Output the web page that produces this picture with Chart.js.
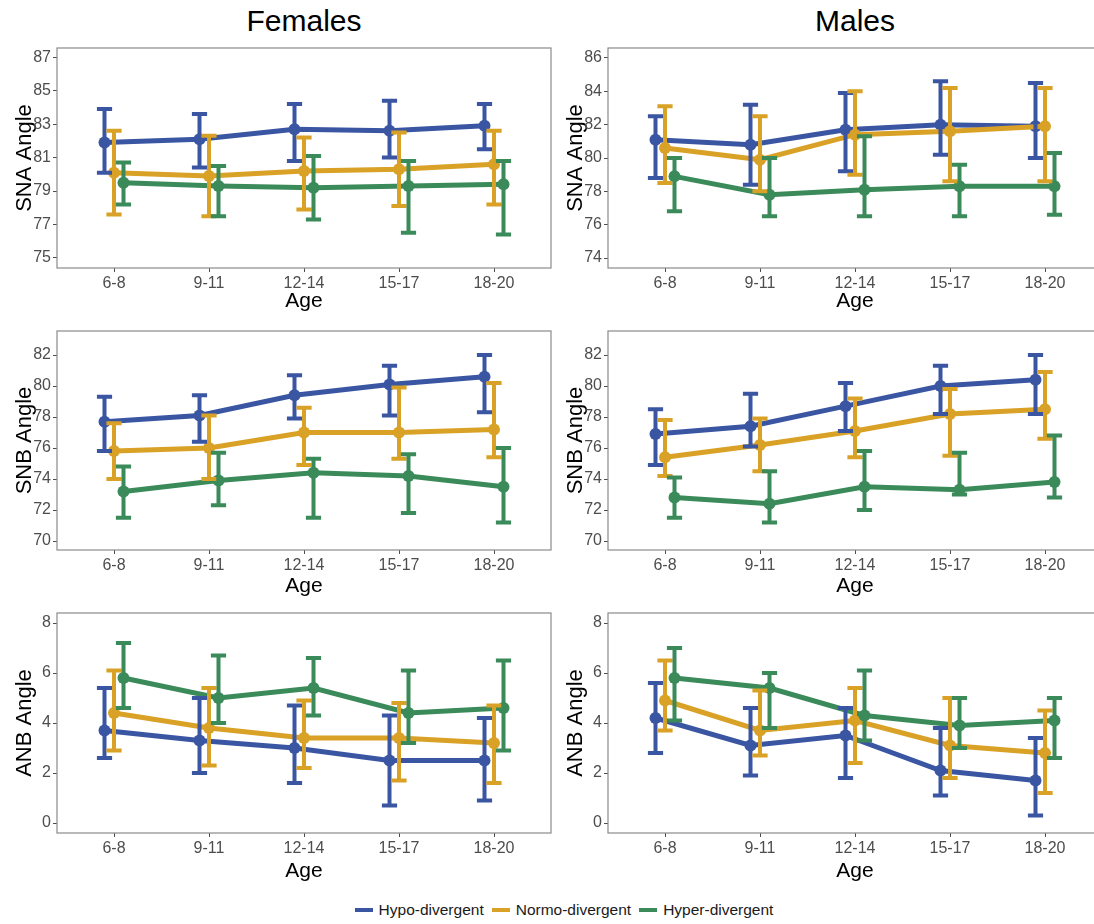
<!DOCTYPE html>
<html>
<head>
<meta charset="utf-8">
<script src="https://cdn.jsdelivr.net/npm/chart.js@4"></script>
<style>
  body { margin: 0; width: 1094px; height: 924px; overflow: hidden; background: #fff; position: relative;
         font-family: "Liberation Sans", Arial, sans-serif; }
  canvas { position: absolute; }
  .colTitle { position: absolute; top: 3px; font-size: 30px; line-height: 36px; text-align: center; color: #000; }
  #legend { position: absolute; top: 900px; left: 0; width: 1120px; height: 20px; display: flex;
            justify-content: center; align-items: center; font-size: 15.5px; color: #1a1a1a; }
  #legend .key { display: inline-block; width: 18px; height: 4px; margin: 0 6px 0 8px; }
</style>
</head>
<body>
<div class="colTitle" style="left:57px;width:494px">Females</div>
<div class="colTitle" style="left:608px;width:494px">Males</div>

<canvas id="femSna" width="560" height="274" style="left:0;top:40px"></canvas>
<canvas id="maleSna" width="560" height="274" style="left:553px;top:40px"></canvas>
<canvas id="femSnb" width="560" height="277" style="left:0;top:322px"></canvas>
<canvas id="maleSnb" width="560" height="277" style="left:553px;top:322px"></canvas>
<canvas id="femAnb" width="560" height="281" style="left:0;top:603px"></canvas>
<canvas id="maleAnb" width="560" height="281" style="left:553px;top:603px"></canvas>

<div id="legend"></div>

<script>
const ageGroups = ['6-8', '9-11', '12-14', '15-17', '18-20'];
const groupNames = ['Hypo-divergent', 'Normo-divergent', 'Hyper-divergent'];
const groupColors = ['#3a56a3', '#d9a126', '#3b8a5a'];

// rows: hypo, normo, hyper
const femSnaMean = [[81.9, 82.1, 82.7, 82.6, 82.9], [80.1, 79.9, 80.2, 80.3, 80.6], [79.5, 79.3, 79.2, 79.3, 79.4]];
const femSnaLow  = [[80.1, 80.4, 80.8, 81.0, 81.5], [77.6, 77.5, 77.9, 78.1, 78.2], [78.2, 77.5, 77.3, 76.5, 76.4]];
const femSnaHigh = [[83.9, 83.6, 84.2, 84.4, 84.2], [82.6, 82.3, 82.2, 82.5, 82.6], [80.7, 80.5, 81.1, 80.8, 80.8]];

const maleSnaMean = [[81.1, 80.8, 81.7, 82.0, 81.9], [80.6, 79.9, 81.4, 81.6, 81.9], [78.9, 77.8, 78.1, 78.3, 78.3]];
const maleSnaLow  = [[78.8, 78.4, 79.2, 80.2, 80.0], [78.5, 78.0, 79.0, 78.6, 78.6], [76.8, 76.5, 76.5, 76.5, 76.6]];
const maleSnaHigh = [[82.5, 83.2, 83.9, 84.6, 84.5], [83.1, 82.5, 84.0, 84.2, 84.2], [80.0, 80.0, 81.3, 79.6, 80.3]];

const femSnbMean = [[77.7, 78.1, 79.4, 80.1, 80.6], [75.8, 76.0, 77.0, 77.0, 77.2], [73.2, 73.9, 74.4, 74.2, 73.5]];
const femSnbLow  = [[75.8, 76.4, 77.9, 78.1, 78.3], [74.0, 74.0, 74.9, 75.3, 75.4], [71.5, 72.3, 71.5, 71.8, 71.2]];
const femSnbHigh = [[79.3, 79.4, 80.7, 81.3, 82.0], [77.6, 78.1, 78.6, 79.9, 80.2], [74.8, 75.7, 75.3, 75.6, 76.0]];

const maleSnbMean = [[76.9, 77.4, 78.7, 80.0, 80.4], [75.4, 76.2, 77.1, 78.2, 78.5], [72.8, 72.4, 73.5, 73.3, 73.8]];
const maleSnbLow  = [[74.9, 76.1, 77.1, 78.2, 78.2], [74.2, 74.5, 75.4, 75.5, 76.6], [71.5, 71.2, 72.0, 73.0, 72.8]];
const maleSnbHigh = [[78.5, 79.5, 80.2, 81.3, 82.0], [77.8, 77.9, 79.2, 79.8, 80.9], [74.1, 74.5, 75.8, 75.7, 76.8]];

const femAnbMean = [[3.7, 3.3, 3.0, 2.5, 2.5], [4.4, 3.8, 3.4, 3.4, 3.2], [5.8, 5.0, 5.4, 4.4, 4.6]];
const femAnbLow  = [[2.6, 2.0, 1.6, 0.7, 0.9], [2.9, 2.3, 2.2, 1.7, 1.6], [4.6, 4.0, 4.3, 3.2, 2.9]];
const femAnbHigh = [[5.4, 5.0, 4.7, 4.3, 4.2], [6.1, 5.4, 4.9, 4.8, 4.7], [7.2, 6.7, 6.6, 6.1, 6.5]];

const maleAnbMean = [[4.2, 3.1, 3.5, 2.1, 1.7], [4.9, 3.7, 4.1, 3.1, 2.8], [5.8, 5.4, 4.3, 3.9, 4.1]];
const maleAnbLow  = [[2.8, 1.9, 1.8, 1.1, 0.3], [3.7, 2.7, 2.4, 1.8, 1.2], [4.1, 3.8, 3.3, 3.0, 2.6]];
const maleAnbHigh = [[5.6, 4.6, 4.6, 3.8, 3.4], [6.5, 5.3, 5.4, 5.0, 4.5], [7.0, 6.0, 6.1, 5.0, 5.0]];

const femSnaTicks = [75, 77, 79, 81, 83, 85, 87];
const maleSnaTicks = [74, 76, 78, 80, 82, 84, 86];
const snbTicks = [70, 72, 74, 76, 78, 80, 82];
const anbTicks = [0, 2, 4, 6, 8];

const dodge = [-0.1, 0, 0.1];

// draws the error bars with caps, through the chart's own scales
const errorBars = {
    id: 'errorBars',
    afterDatasetsDraw(chart) {
        const ctx = chart.ctx;
        const xs = chart.scales.x, ys = chart.scales.y;
        ctx.save();
        chart.data.datasets.forEach(ds => {
            ctx.strokeStyle = ds.borderColor;
            ctx.lineWidth = 4;
            ds.data.forEach((pt, i) => {
                const x = xs.getPixelForValue(pt.x);
                const yLo = ys.getPixelForValue(ds.errLow[i]);
                const yHi = ys.getPixelForValue(ds.errHigh[i]);
                const hw = xs.getPixelForValue(pt.x + 0.08) - x;
                ctx.beginPath();
                ctx.moveTo(x, yLo); ctx.lineTo(x, yHi);
                ctx.moveTo(x - hw, yHi); ctx.lineTo(x + hw, yHi);
                ctx.moveTo(x - hw, yLo); ctx.lineTo(x + hw, yLo);
                ctx.stroke();
            });
        });
        ctx.restore();
    }
};

// grey frame round the panel
const panelBorder = {
    id: 'panelBorder',
    afterDraw(chart) {
        const a = chart.chartArea;
        const ctx = chart.ctx;
        ctx.save();
        ctx.strokeStyle = '#8a8a8a';
        ctx.lineWidth = 1.2;
        ctx.strokeRect(a.left, a.top, a.right - a.left, a.bottom - a.top);
        ctx.restore();
    }
};

function makePanel(id, mean, low, high, yTitle, yMin, yMax, yTicks, box) {
    const datasets = groupNames.map((name, g) => ({
        label: name,
        data: mean[g].map((v, i) => ({ x: i + 1 + dodge[g], y: v })),
        errLow: low[g],
        errHigh: high[g],
        borderColor: groupColors[g],
        backgroundColor: groupColors[g],
        borderWidth: 5,
        pointRadius: 6,
        pointBorderWidth: 0,
        order: 3 - g,
        fill: false
    }));

    new Chart(document.getElementById(id), {
        type: 'line',
        data: { datasets: datasets },
        options: {
            responsive: false,
            animation: false,
            layout: { padding: { top: box.padTop, right: box.padRight, left: 0, bottom: 0 } },
            plugins: { legend: { display: false }, tooltip: { enabled: false } },
            scales: {
                x: {
                    type: 'linear',
                    min: 0.4,
                    max: 5.6,
                    afterBuildTicks: s => { s.ticks = ageGroups.map((_, i) => ({ value: i + 1 })); },
                    afterFit: s => { s.height = box.xHeight; s.paddingLeft = 0; s.paddingRight = 0; },
                    ticks: {
                        callback: (v, i) => ageGroups[i],
                        font: { family: 'Liberation Sans', size: 16 },
                        color: '#4d4d4d',
                        padding: 2,
                        maxRotation: 0,
                        autoSkip: false
                    },
                    grid: { drawOnChartArea: false, tickLength: 4, color: '#4d4d4d' },
                    border: { display: false },
                    title: { display: true, text: 'Age', color: '#000',
                             font: { family: 'Liberation Sans', size: 21 }, padding: { bottom: 0, top: 0 } }
                },
                y: {
                    min: yMin,
                    max: yMax,
                    afterBuildTicks: s => { s.ticks = yTicks.map(v => ({ value: v })); },
                    afterFit: s => { s.width = box.yWidth; s.paddingTop = 0; s.paddingBottom = 0; },
                    ticks: {
                        font: { family: 'Liberation Sans', size: 16 },
                        color: '#4d4d4d',
                        padding: 2
                    },
                    grid: { drawOnChartArea: false, tickLength: 4, color: '#4d4d4d' },
                    border: { display: false },
                    title: { display: true, text: yTitle, color: '#000',
                             font: { family: 'Liberation Sans', size: 22 }, padding: { top: box.titlePad, bottom: 0 } }
                }
            }
        },
        plugins: [errorBars, panelBorder]
    });
}

const leftCol = { yWidth: 57, padRight: 9, titlePad: 12 };
const rightCol = { yWidth: 55, padRight: 11, titlePad: 10 };
const row1 = { padTop: 8, xHeight: 46 };
const row2 = { padTop: 9, xHeight: 49 };
const row3 = { padTop: 10, xHeight: 51 };

makePanel('femSna', femSnaMean, femSnaLow, femSnaHigh, 'SNA Angle', 74.4, 87.55, femSnaTicks, { ...leftCol, ...row1 });
makePanel('maleSna', maleSnaMean, maleSnaLow, maleSnaHigh, 'SNA Angle', 73.4, 86.6, maleSnaTicks, { ...rightCol, ...row1 });
makePanel('femSnb', femSnbMean, femSnbLow, femSnbHigh, 'SNB Angle', 69.42, 83.55, snbTicks, { ...leftCol, ...row2 });
makePanel('maleSnb', maleSnbMean, maleSnbLow, maleSnbHigh, 'SNB Angle', 69.42, 83.55, snbTicks, { ...rightCol, ...row2 });
makePanel('femAnb', femAnbMean, femAnbLow, femAnbHigh, 'ANB Angle', -0.4, 8.4, anbTicks, { ...leftCol, ...row3 });
makePanel('maleAnb', maleAnbMean, maleAnbLow, maleAnbHigh, 'ANB Angle', -0.4, 8.4, anbTicks, { ...rightCol, ...row3 });

// legend
const legend = document.getElementById('legend');
groupNames.forEach((name, g) => {
    const key = document.createElement('span');
    key.className = 'key';
    key.style.background = groupColors[g];
    legend.appendChild(key);
    legend.appendChild(document.createTextNode(name));
});
</script>
</body>
</html>
